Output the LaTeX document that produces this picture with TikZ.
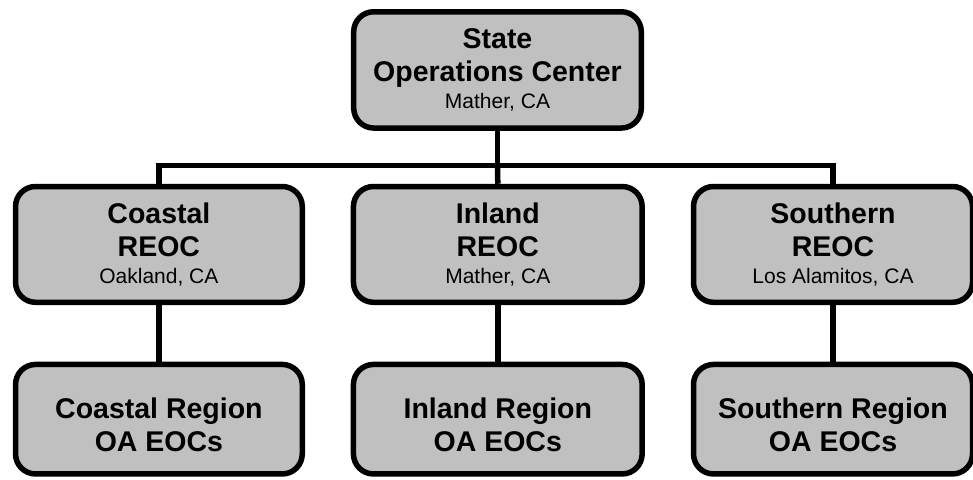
\documentclass[tikz,border=0pt]{standalone}
\usepackage{fontspec}
\setmainfont{Liberation Sans}
\definecolor{boxgray}{RGB}{192,192,192}
\tikzset{
  eocbox/.style={draw=black, line width=5.5pt, fill=boxgray, rounded corners=20pt,
    align=center, inner sep=0pt, font=\bfseries\fontsize{28.5}{33}\selectfont},
  link/.style={draw=black, line width=5.5pt},
}
\newcommand{\place}[1]{\\[-6pt]{\mdseries\fontsize{21}{27}\selectfont #1}}
\begin{document}
\begin{tikzpicture}[x=1pt,y=-1pt]
    \useasboundingbox (0,0) rectangle (973,479);
    % state level
    \node[eocbox, minimum width=287.6pt, minimum height=116.3pt] (soc) at (497.5,69.9)
      {State\\Operations Center\place{Mather, CA}};
    % regional EOCs
    \node[eocbox, minimum width=286.7pt, minimum height=115.8pt] (coastal) at (158.9,244.4)
      {Coastal\\REOC\place{Oakland, CA}};
    \node[eocbox, minimum width=288.7pt, minimum height=115.8pt] (inland) at (497.8,244.4)
      {Inland\\REOC\place{Mather, CA}};
    \node[eocbox, minimum width=279pt, minimum height=115.8pt] (southern) at (833,244.4)
      {Southern\\REOC\place{Los Alamitos, CA}};
    % operational area EOCs
    \node[eocbox, minimum width=286.7pt, minimum height=109.5pt] (coastalOA) at (158.9,419.2)
      {\rule{0pt}{31.6pt}Coastal Region\\OA EOCs};
    \node[eocbox, minimum width=288.7pt, minimum height=109.5pt] (inlandOA) at (497.8,419.2)
      {\rule{0pt}{31.6pt}Inland Region\\OA EOCs};
    \node[eocbox, minimum width=279pt, minimum height=109.5pt] (southernOA) at (833,419.2)
      {\rule{0pt}{31.6pt}Southern Region\\OA EOCs};
    % connectors
    \coordinate (bus) at (soc.south |- 0,165.5);
    \draw[link] (soc.south) -- (bus);
    \draw[link] (coastal.north) |- (bus) -| (southern.north);
    \draw[link] (bus) -- (inland.north);
    \draw[link] (coastal.south) -- (coastalOA.north);
    \draw[link] (inland.south) -- (inlandOA.north);
    \draw[link] (southern.south) -- (southernOA.north);
\end{tikzpicture}
\end{document}
